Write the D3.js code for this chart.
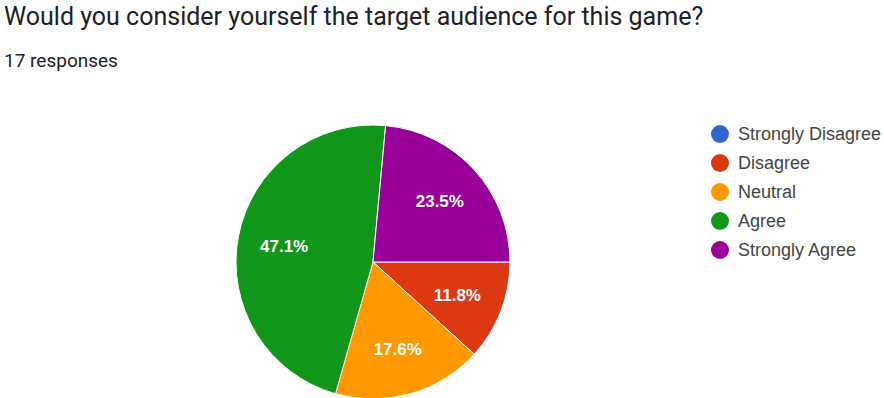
<!DOCTYPE html>
<html>
<head>
<meta charset="utf-8">
<script src="https://cdn.jsdelivr.net/npm/d3@7"></script>
<style>
  html, body { margin: 0; padding: 0; background: #ffffff; }
  svg { display: block; }
</style>
</head>
<body>
<svg id="chart" width="884" height="398"></svg>
<script>
// Survey answers, in legend order
const categories = ["Strongly Disagree", "Disagree", "Neutral", "Agree", "Strongly Agree"];
const responses = [0, 2, 3, 8, 4];
const colors = ["#3366cc", "#dc3912", "#ff9900", "#109618", "#990099"];

const title = "Would you consider yourself the target audience for this game?";
const total = d3.sum(responses);

const svg = d3.select("#chart");

svg.append("text")
  .attr("x", 4)
  .attr("y", 25)
  .attr("font-family", "Roboto, sans-serif")
  .attr("font-size", 25)
  .attr("fill", "#202124")
  .text(title);

svg.append("text")
  .attr("x", 4)
  .attr("y", 67)
  .attr("font-family", "Roboto, sans-serif")
  .attr("font-size", 19)
  .attr("fill", "#202124")
  .text(total + " responses");

// Pie
const cx = 373, cy = 262, radius = 137;
const data = categories.map((c, i) => ({ name: c, value: responses[i], color: colors[i] }));

const pie = d3.pie()
  .sort(null)
  .value(d => d.value)
  .startAngle(Math.PI / 2)
  .endAngle(Math.PI / 2 + 2 * Math.PI);

const arc = d3.arc().innerRadius(0).outerRadius(radius);
const labelArc = d3.arc().innerRadius(radius * 0.66).outerRadius(radius * 0.66);

const g = svg.append("g").attr("transform", `translate(${cx},${cy})`);
const arcs = pie(data).filter(d => d.data.value > 0);

g.selectAll("path")
  .data(arcs)
  .join("path")
  .attr("d", arc)
  .attr("fill", d => d.data.color)
  .attr("stroke", "#ffffff")
  .attr("stroke-width", 1);

const pct = d3.format(".1%");
g.selectAll("text.pct")
  .data(arcs)
  .join("text")
  .attr("class", "pct")
  .attr("transform", d => `translate(${labelArc.centroid(d)})`)
  .attr("text-anchor", "middle")
  .attr("dy", "0.36em")
  .attr("font-family", "Arial, 'Liberation Sans', sans-serif")
  .attr("font-size", 17)
  .attr("font-weight", "bold")
  .attr("fill", "#ffffff")
  .text(d => pct(d.data.value / total));

// Legend
const legend = svg.append("g").attr("transform", "translate(720,134)");
const rows = legend.selectAll("g")
  .data(data)
  .join("g")
  .attr("transform", (d, i) => `translate(0,${i * 29})`);

rows.append("circle")
  .attr("r", 9)
  .attr("fill", d => d.color);

rows.append("text")
  .attr("x", 18)
  .attr("dy", "0.36em")
  .attr("font-family", "Arial, 'Liberation Sans', sans-serif")
  .attr("font-size", 18)
  .attr("fill", "#444444")
  .text(d => d.name);
</script>
</body>
</html>
